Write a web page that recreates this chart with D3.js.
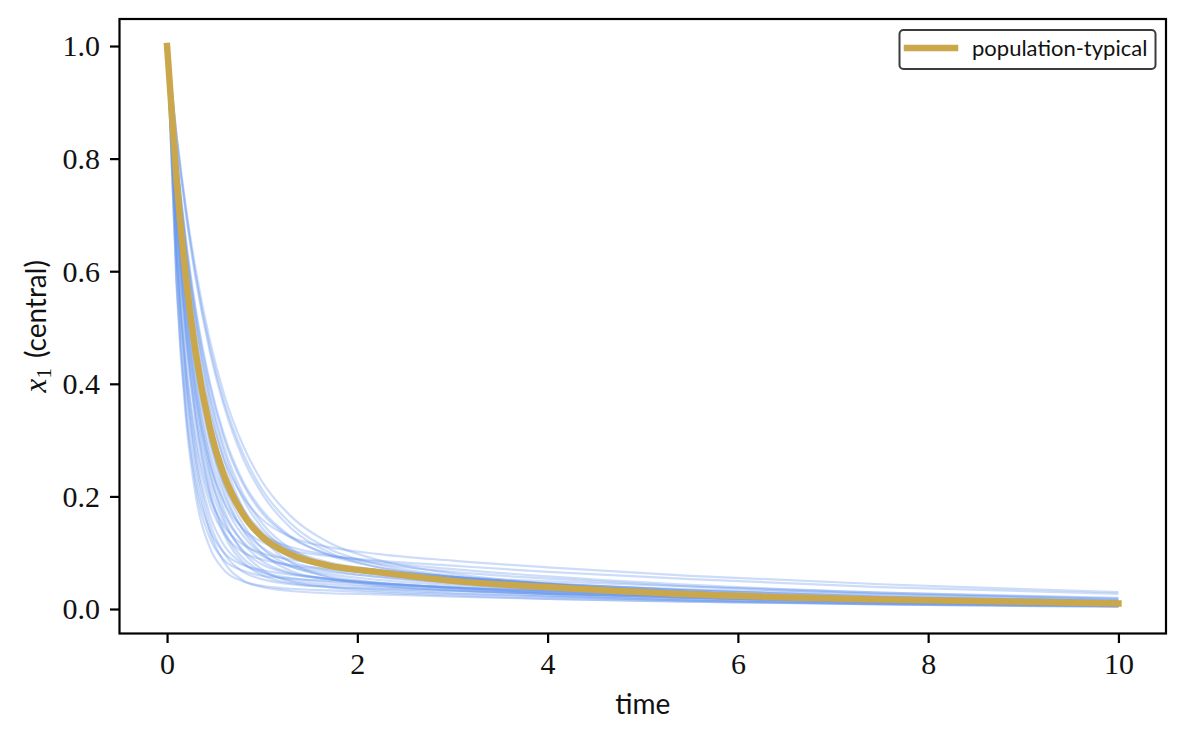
<!DOCTYPE html>
<html>
<head>
<meta charset="utf-8">
<script src="https://cdn.jsdelivr.net/npm/d3@7"></script>
<style>
  body { margin: 0; background: #fff; }
  svg { display: block; }
</style>
</head>
<body>
<div id="chart"></div>
<script>
// Sample times shared by every curve
const times = [0, 0.1, 0.2, 0.3, 0.45, 0.6, 0.8, 1.0, 1.3, 1.7, 2.2, 3, 4, 5.5, 7.5, 10];

// Individual subject curves, x1 (central)
const subjects = [
    [1, .571, .334, .203, .109, .069, .049, .041, .036, .033, .029, .024, .018, .013, .008, .004],
    [1, .630, .403, .266, .153, .099, .066, .053, .044, .039, .035, .028, .022, .015, .009, .005],
    [1, .636, .414, .278, .167, .113, .080, .065, .055, .048, .041, .033, .024, .015, .008, .004],
    [1, .689, .480, .340, .210, .139, .090, .066, .051, .044, .039, .033, .027, .020, .013, .008],
    [1, .694, .489, .351, .224, .153, .104, .079, .063, .053, .046, .038, .029, .020, .012, .007],
    [1, .701, .499, .364, .238, .168, .119, .094, .077, .066, .058, .047, .037, .025, .015, .008],
    [1, .725, .529, .392, .257, .175, .117, .085, .064, .053, .046, .038, .031, .023, .016, .009],
    [1, .730, .538, .403, .268, .188, .130, .097, .075, .062, .052, .042, .033, .023, .014, .007],
    [1, .734, .546, .413, .280, .201, .141, .109, .084, .069, .057, .045, .033, .021, .012, .006],
    [1, .760, .581, .448, .310, .221, .150, .108, .076, .058, .047, .038, .029, .020, .012, .007],
    [1, .765, .590, .460, .324, .238, .167, .127, .095, .076, .065, .055, .045, .033, .022, .014],
    [1, .769, .597, .469, .335, .248, .178, .137, .105, .083, .070, .057, .044, .030, .018, .010],
    [1, .763, .587, .456, .320, .232, .163, .123, .092, .075, .066, .057, .049, .040, .029, .020],
    [1, .799, .641, .518, .382, .287, .204, .152, .107, .078, .062, .048, .037, .025, .015, .008],
    [1, .804, .649, .528, .396, .302, .221, .170, .127, .097, .081, .066, .054, .040, .027, .016],
    [1, .806, .654, .534, .402, .309, .226, .175, .129, .096, .075, .057, .042, .027, .015, .007],
    [1, .838, .704, .594, .465, .368, .276, .212, .152, .107, .080, .059, .044, .030, .018, .010],
    [1, .842, .711, .604, .477, .381, .290, .226, .165, .118, .088, .063, .045, .029, .016, .008],
    [1, .644, .427, .295, .186, .134, .101, .088, .078, .071, .064, .055, .045, .033, .022, .014],
    [1, .580, .347, .219, .126, .087, .068, .059, .054, .050, .045, .038, .031, .023, .016, .009],
    [1, .708, .511, .380, .257, .190, .142, .119, .104, .094, .086, .077, .066, .053, .039, .027],
    [1, .740, .557, .427, .299, .221, .164, .132, .110, .096, .084, .071, .058, .043, .029, .018],
    [1, .796, .636, .510, .374, .278, .195, .144, .102, .075, .062, .052, .044, .035, .026, .018],
    [1, .651, .438, .307, .199, .147, .114, .099, .088, .078, .069, .057, .044, .030, .018, .010],
    [1, .756, .574, .440, .299, .210, .139, .099, .068, .053, .044, .038, .033, .026, .020, .013],
    [1, .686, .476, .334, .204, .132, .083, .060, .046, .040, .036, .032, .027, .022, .016, .011],
    [1, .835, .699, .588, .457, .360, .267, .204, .144, .101, .075, .057, .045, .033, .022, .014],
    [1, .719, .520, .380, .243, .160, .101, .070, .049, .039, .032, .027, .022, .017, .011, .007],
    [1, .791, .629, .501, .361, .263, .178, .126, .083, .056, .043, .034, .027, .020, .013, .008],
    [1, .587, .359, .232, .140, .100, .078, .069, .061, .054, .047, .037, .027, .017, .009, .005],
    [1, .774, .606, .481, .350, .266, .199, .159, .128, .110, .098, .086, .074, .059, .044, .030],
    [1, .622, .391, .252, .138, .083, .051, .039, .032, .028, .026, .022, .018, .013, .009, .005]
];

// Population-typical curve
const typical = [1, .762, .586, .456, .322, .237, .168, .128, .097, .077, .066, .050, .039, .026, .017, .010];

const xTicks = [0, 2, 4, 6, 8, 10];
const yTicks = [0, 0.2, 0.4, 0.6, 0.8, 1.0];
const legendLabel = "population-typical";

const width = 1186, height = 740;
const plot = { left: 119.5, right: 1166, top: 19, bottom: 633.5 };

const svg = d3.select("#chart").append("svg")
    .attr("width", width)
    .attr("height", height);

// Scales
const x = d3.scaleLinear().domain([-0.5, 10.5]).range([plot.left, plot.right]);
const y = d3.scaleLinear().domain([-0.0435, 1.048]).range([plot.bottom, plot.top]);

const line = d3.line()
    .x((d, i) => x(times[i]))
    .y(d => y(d))
    .curve(d3.curveMonotoneX);

// Clip to the axes area
svg.append("clipPath").attr("id", "clip")
    .append("rect")
    .attr("x", plot.left).attr("y", plot.top)
    .attr("width", plot.right - plot.left)
    .attr("height", plot.bottom - plot.top);

const g = svg.append("g").attr("clip-path", "url(#clip)");

// Subject curves
g.selectAll(".subject")
    .data(subjects)
    .enter().append("path")
    .attr("class", "subject")
    .attr("d", line)
    .attr("fill", "none")
    .attr("stroke", "#6495ed")
    .attr("stroke-opacity", 0.33)
    .attr("stroke-width", 2.2);

// Population-typical curve
g.append("path")
    .datum(typical)
    .attr("d", line)
    .attr("fill", "none")
    .attr("stroke", "#c9a74a")
    .attr("stroke-width", 6.5)
    .attr("stroke-linecap", "square")
    .attr("stroke-linejoin", "round");

// Axes
const xAxis = svg.append("g")
    .attr("transform", `translate(0,${plot.bottom})`)
    .call(d3.axisBottom(x).tickValues(xTicks).tickFormat(d3.format("d")).tickSizeOuter(0).tickSize(9.5).tickPadding(11));

const yAxis = svg.append("g")
    .attr("transform", `translate(${plot.left},0)`)
    .call(d3.axisLeft(y).tickValues(yTicks).tickFormat(d3.format(".1f")).tickSizeOuter(0).tickSize(9.5).tickPadding(10));

[xAxis, yAxis].forEach(ax => {
    ax.select(".domain").remove();
    ax.selectAll(".tick line").attr("stroke", "#000").attr("stroke-width", 2.2);
    ax.selectAll(".tick text")
        .attr("fill", "#111")
        .style("font-family", "'Liberation Serif', serif")
        .style("font-size", "30px");
});
xAxis.selectAll(".tick text").attr("dy", "0.68em");
yAxis.selectAll(".tick text").attr("dy", "0.33em");

// Frame
svg.append("rect")
    .attr("x", plot.left).attr("y", plot.top)
    .attr("width", plot.right - plot.left)
    .attr("height", plot.bottom - plot.top)
    .attr("fill", "none")
    .attr("stroke", "#000")
    .attr("stroke-width", 2.2);

// Axis labels
svg.append("text")
    .attr("x", (plot.left + plot.right) / 2)
    .attr("y", 714)
    .attr("text-anchor", "middle")
    .style("font-family", "Lato, sans-serif")
    .style("font-size", "28px")
    .attr("fill", "#111")
    .text("time");

const yLabel = svg.append("text")
    .attr("transform", `translate(46,${(plot.top + plot.bottom) / 2}) rotate(-90)`)
    .attr("text-anchor", "middle")
    .attr("fill", "#111")
    .style("font-size", "28px");
yLabel.append("tspan")
    .style("font-family", "'Liberation Serif', serif")
    .style("font-style", "italic")
    .style("font-size", "31px")
    .text("x");
yLabel.append("tspan")
    .style("font-family", "'Liberation Serif', serif")
    .style("font-size", "21px")
    .attr("dy", 5)
    .text("1");
yLabel.append("tspan")
    .style("font-family", "Lato, sans-serif")
    .attr("dy", -5)
    .attr("dx", 10)
    .text("(central)");

// Legend
const legend = svg.append("g");
legend.append("rect")
    .attr("x", 899.5).attr("y", 30)
    .attr("width", 256).attr("height", 39)
    .attr("rx", 4)
    .attr("fill", "#fff")
    .attr("fill-opacity", 0.8)
    .attr("stroke", "#3c3c3c")
    .attr("stroke-width", 2);
legend.append("line")
    .attr("x1", 907).attr("x2", 955)
    .attr("y1", 48).attr("y2", 48)
    .attr("stroke", "#c9a74a")
    .attr("stroke-width", 6.5)
    .attr("stroke-linecap", "square");
legend.append("text")
    .attr("x", 972).attr("y", 55.5)
    .style("font-family", "Lato, sans-serif")
    .style("font-size", "22px")
    .attr("fill", "#111")
    .text(legendLabel);
</script>
</body>
</html>
